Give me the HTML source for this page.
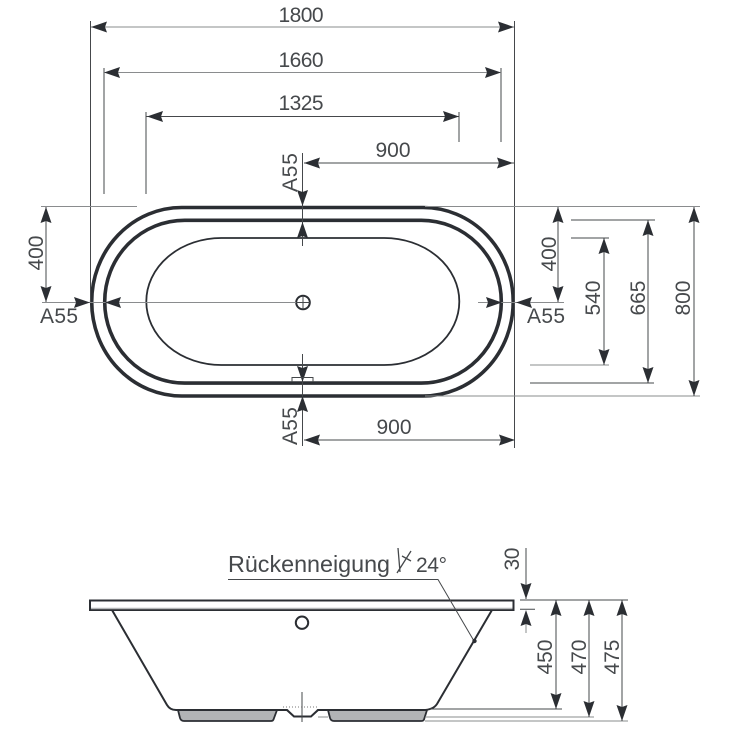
<!DOCTYPE html>
<html><head><meta charset="utf-8"><style>
html,body{margin:0;padding:0;background:#fff}
svg{display:block}
text{font-family:"Liberation Sans",sans-serif;font-size:21px;fill:#46494c}
.t{stroke:#45484b;stroke-width:1;fill:none}
.g{stroke:#8a8c8e;stroke-width:1;fill:none}
.a{fill:#2b2e33;stroke:none}
.b{stroke:#2b2e33;fill:none}
</style></head><body>
<svg width="730" height="730" viewBox="0 0 730 730" xmlns="http://www.w3.org/2000/svg">
<defs>
<path id="ar" class="a" d="M0 0L16 -5.500L14 0L16 5.500Z"/>
</defs>

<!-- top view outlines -->
<rect class="b" x="91.7" y="207.5" width="421.5" height="188.5" rx="90" ry="94.2" stroke-width="3.6"/>
<rect class="b" x="104.7" y="220.3" width="396.6" height="162.8" rx="80" ry="81.4" stroke-width="3.6"/>
<rect class="b" x="146.3" y="238" width="313" height="127" rx="75" ry="63.5" stroke-width="1.8"/>
<circle cx="303" cy="302.5" r="6.8" fill="#fff" stroke="#2b2e33" stroke-width="2"/>
<path class="t" d="M296 302.5H310M303 296V309"/>

<!-- extension lines -->
<path class="t" d="M90.5 21V302M104 68V194M501 68V142M459 112V142M146 112V194M514.5 21V448"/>
<path class="g" d="M41 206.5H137M425 206.5H700M425 396H700M530 365H609"/>
<path class="t" d="M571 220H655M571 238H609M530 383H654"/>

<!-- horizontal dimensions -->
<path class="g" d="M91 27H514M104 72.5H501"/>
<path class="t" d="M146 116.5H459M304 163H514M304 440H514"/>
<use href="#ar" x="91" y="27"/><use href="#ar" transform="translate(514 27) rotate(180)"/>
<use href="#ar" x="104" y="72.5"/><use href="#ar" transform="translate(501 72.5) rotate(180)"/>
<use href="#ar" x="147" y="116.5"/><use href="#ar" transform="translate(459 116.5) rotate(180)"/>
<use href="#ar" x="304" y="163"/><use href="#ar" transform="translate(513 163) rotate(180)"/>
<use href="#ar" x="304" y="440"/><use href="#ar" transform="translate(515 440) rotate(180)"/>
<text x="301" y="22" text-anchor="middle" textLength="45">1800</text>
<text x="301" y="67" text-anchor="middle" textLength="45">1660</text>
<text x="301" y="110" text-anchor="middle" textLength="45">1325</text>
<text x="393" y="157" text-anchor="middle" textLength="35">900</text>
<text x="394" y="434" text-anchor="middle" textLength="35">900</text>

<!-- center cross lines and A55 -->
<path class="t" d="M302.5 153V246M302.5 354V446"/>
<path class="g" d="M42 302.5H296M478 302.5H564"/>
<use href="#ar" transform="translate(302.5 206) rotate(-90)"/>
<use href="#ar" transform="translate(302.5 222) rotate(90)"/>
<use href="#ar" transform="translate(302.5 382) rotate(-90)"/>
<use href="#ar" transform="translate(302.5 396) rotate(90)"/>
<use href="#ar" transform="translate(90 302.5) rotate(180)"/>
<use href="#ar" x="105" y="302.5"/>
<use href="#ar" transform="translate(502 302.5) rotate(180)"/>
<use href="#ar" x="516" y="302.5"/>
<path class="t" d="M292 382V377.5H313V382" stroke-width=".8"/>
<text x="40" y="323" textLength="38">A55</text>
<text x="527" y="323" textLength="38">A55</text>
<text transform="translate(297 192) rotate(-90)" textLength="39">A55</text>
<text transform="translate(297 445) rotate(-90)" textLength="38">A55</text>

<!-- vertical dimensions -->
<path class="t" d="M46 207V302M558 207V302M604 238V365M648 220V383M694 207V396"/>
<use href="#ar" transform="translate(46 207) rotate(90)"/><use href="#ar" transform="translate(46 302) rotate(-90)"/>
<use href="#ar" transform="translate(558 207) rotate(90)"/><use href="#ar" transform="translate(558 302) rotate(-90)"/>
<use href="#ar" transform="translate(604 238) rotate(90)"/><use href="#ar" transform="translate(604 365) rotate(-90)"/>
<use href="#ar" transform="translate(648 220) rotate(90)"/><use href="#ar" transform="translate(648 383) rotate(-90)"/>
<use href="#ar" transform="translate(694 207) rotate(90)"/><use href="#ar" transform="translate(694 396) rotate(-90)"/>
<text transform="translate(43 253) rotate(-90)" text-anchor="middle" textLength="35">400</text>
<text transform="translate(556 254) rotate(-90)" text-anchor="middle" textLength="35">400</text>
<text transform="translate(600 298) rotate(-90)" text-anchor="middle" textLength="35">540</text>
<text transform="translate(645 298) rotate(-90)" text-anchor="middle" textLength="35">665</text>
<text transform="translate(690 298) rotate(-90)" text-anchor="middle" textLength="35">800</text>

<!-- side view -->
<path d="M178 710H277L273.500 719.500Q273 721 271 721H184Q181 721 180 718Z" fill="#b2b4b6" stroke="#2b2e33" stroke-width="1.800"/>
<path d="M328 710H427L424 719.500Q423.500 721 421 721H334Q331 721 330 718Z" fill="#b2b4b6" stroke="#2b2e33" stroke-width="1.800"/>
<path d="M318 717H328" class="g"/>
<path d="M112 610L167 705Q170 710 176 710H287L294 716H311L318 710H423Q433 710 437 704L492 610" fill="#fff" stroke="#2b2e33" stroke-width="2"/>
<path d="M287 710L294 716.500H311L318 710" fill="#fff" stroke="#2b2e33" stroke-width="2"/>
<rect x="90" y="600.500" width="423.500" height="9.500" fill="#fff" stroke="#2b2e33" stroke-width="2"/>
<path d="M91 608.500H512.500" stroke="#b5b7b9" stroke-width="1.500" fill="none"/>
<circle cx="302" cy="622.700" r="6.200" fill="#fff" stroke="#2b2e33" stroke-width="2"/>
<path class="t" d="M302 692V722"/>
<path d="M283 707H319" stroke="#777" stroke-width="1" stroke-dasharray="1 2" fill="none"/>

<!-- annotation -->
<text x="228" y="572" style="font-size:23px" textLength="162" lengthAdjust="spacingAndGlyphs">Rückenneigung</text>
<text x="416" y="572" textLength="31">24°</text>
<path class="t" stroke-width="1.300" d="M398 548L400 572M411 551L397 573M402 556L411 561" style="stroke-width:1.300"/>
<path class="t" d="M228 579.500H438L474 641"/>
<circle cx="474.500" cy="641" r="2.200" fill="#2b2e33"/>

<!-- side dimensions -->
<path class="t" d="M520 600H628M520 609.300H535M430 709H562"/>
<path class="g" d="M425 717H594M425 721H628"/>
<path class="t" d="M526 548V599"/>
<path class="g" d="M526 613V633"/>
<use href="#ar" transform="translate(526 599) rotate(-90)"/>
<use href="#ar" transform="translate(526 610) rotate(90)"/>
<path class="t" d="M556 600V709M589 600V717M622 600V721"/>
<use href="#ar" transform="translate(556 600) rotate(90)"/><use href="#ar" transform="translate(556 709) rotate(-90)"/>
<use href="#ar" transform="translate(589 600) rotate(90)"/><use href="#ar" transform="translate(589 717) rotate(-90)"/>
<use href="#ar" transform="translate(622 600) rotate(90)"/><use href="#ar" transform="translate(622 721) rotate(-90)"/>
<text transform="translate(519 559) rotate(-90)" text-anchor="middle" textLength="23">30</text>
<text transform="translate(552 657) rotate(-90)" text-anchor="middle" textLength="35">450</text>
<text transform="translate(586 657) rotate(-90)" text-anchor="middle" textLength="35">470</text>
<text transform="translate(619 657) rotate(-90)" text-anchor="middle" textLength="35">475</text>
</svg>
</body></html>
